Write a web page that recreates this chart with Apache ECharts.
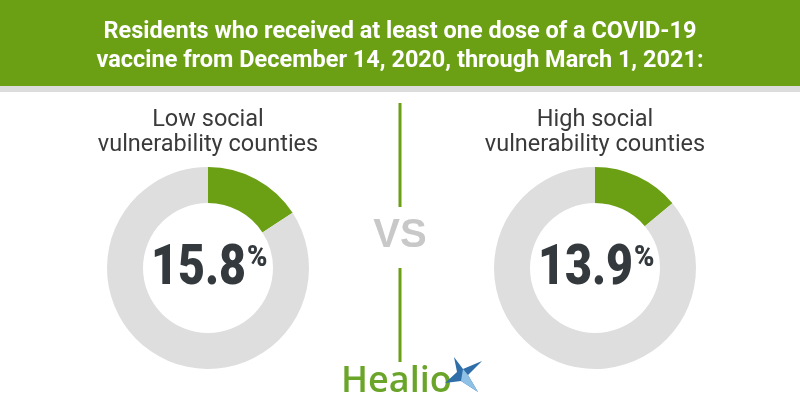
<!DOCTYPE html>
<html>
<head>
<meta charset="utf-8">
<script src="https://cdn.jsdelivr.net/npm/echarts@6/dist/echarts.min.js"></script>
<style>html,body{margin:0;padding:0;background:#fff}#c{width:800px;height:420px}</style>
</head>
<body>
<div id="c"></div>
<script>
const titleLines = ['Residents who received at least one dose of a COVID-19', 'vaccine from December 14, 2020, through March 1, 2021:'];
const groupLine1 = ['Low social', 'High social'];
const groupLine2 = ['vulnerability counties', 'vulnerability counties'];
const vaccinated = [15.8, 13.9];

const GREEN = '#6b9f14';
const GRAY = '#dedede';
const DARK = '#33393d';
const centers = [[208, 268], [595, 268]];

const ctx = document.createElement('canvas').getContext('2d');
function measure(text, font) { ctx.font = font; return ctx.measureText(text).width; }
function fitScale(text, font, target) { return target / measure(text, font); }

const chart = echarts.init(document.getElementById('c'), null, {renderer: 'canvas'});

const titleFont = 'bold 23px Roboto';
const titleWidths = [593, 607];

const graphics = [
  {type: 'rect', shape: {x: 0, y: 0, width: 800, height: 86}, style: {fill: GREEN}, z: 0},
  {type: 'rect', shape: {x: 0, y: 86, width: 800, height: 6}, style: {fill: '#dcdcdc'}, z: 0},
  {type: 'rect', shape: {x: 398.5, y: 103, width: 3, height: 104}, style: {fill: GREEN}},
  {type: 'rect', shape: {x: 398.5, y: 268, width: 3, height: 94}, style: {fill: GREEN}},
  {type: 'text', x: 400, y: 236, style: {text: 'VS', font: 'bold 40px "Liberation Sans"', fill: '#c8c8c8', align: 'center', verticalAlign: 'middle'}},
  {type: 'text', x: 341, y: 382, scaleX: 1.0, style: {text: 'Healio', font: '600 36px "Open Sans"', fill: '#6aa52a', align: 'left', verticalAlign: 'middle'}},
  {type: 'polygon', shape: {points: [[454,357],[463,369],[482,361],[468,375],[478,392],[461,381],[445,383],[457,372]]}, style: {fill: '#2f6ea8'}},
  {type: 'polygon', shape: {points: [[463,369],[468,375],[478,392],[461,381]]}, style: {fill: '#8fc1e6'}}
];

titleLines.forEach((t, i) => {
  const sx = fitScale(t, titleFont, titleWidths[i]);
  graphics.push({type: 'text', x: 400, y: [32, 61][i], scaleX: sx, originX: 0,
    style: {text: t, font: titleFont, fill: '#ffffff', align: 'center', verticalAlign: 'middle'}});
});

vaccinated.forEach((v, i) => {
  const [cx, cy] = centers[i];
  const labFont = '23.5px Roboto';
  graphics.push({type: 'text', x: cx, y: 120, style: {text: groupLine1[i], font: labFont, fill: '#3a3a3a', align: 'center', verticalAlign: 'middle'}});
  graphics.push({type: 'text', x: cx, y: 145.5, style: {text: groupLine2[i], font: labFont, fill: '#3a3a3a', align: 'center', verticalAlign: 'middle'}});
  const numFont = '900 56px Roboto';
  const numText = v.toFixed(1);
  const sx = fitScale(numText, numFont, 95);
  graphics.push({type: 'text', x: cx + 38, y: 270, scaleX: sx,
    style: {text: numText, font: numFont, fill: DARK, align: 'right', verticalAlign: 'middle'}});
  graphics.push({type: 'text', x: cx + 39, y: 259, scaleX: 0.95,
    style: {text: '%', font: '900 29px Roboto', fill: DARK, align: 'left', verticalAlign: 'middle'}});
});

const series = vaccinated.map((v, i) => ({
  type: 'pie',
  center: centers[i],
  radius: [65, 101],
  startAngle: 90,
  clockwise: true,
  silent: true,
  animation: false,
  label: {show: false},
  labelLine: {show: false},
  itemStyle: {borderWidth: 0},
  data: [
    {value: v, itemStyle: {color: GREEN}},
    {value: +(100 - v).toFixed(1), itemStyle: {color: GRAY}}
  ]
}));

chart.setOption({
  animation: false,
  series: series,
  graphic: graphics
});
</script>
</body>
</html>
